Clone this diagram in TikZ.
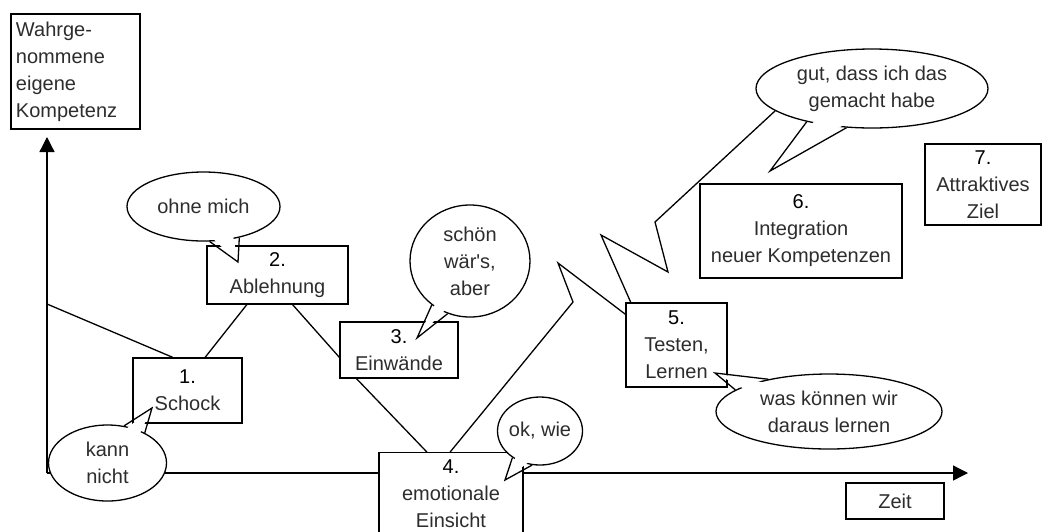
\documentclass[tikz,border=0pt]{standalone}
\usepackage{fontspec}
\setmainfont{Liberation Sans}
\usetikzlibrary{arrows.meta,shapes.geometric,calc}
\definecolor{kgray}{RGB}{45,45,45}
\newcommand{\kfont}{\fontsize{20}{27}\selectfont}
\newcommand{\knum}[1]{\textcolor{black}{#1}}
% tail of a speech bubble: bubble, border angle, border angle, tip
\newcommand{\ktail}[4]{%
  \fill[white] ($(#1.center)!0.8!(#1.#2)$) -- (#4) -- ($(#1.center)!0.8!(#1.#3)$) -- cycle;
  \draw[kline] (#1.#2) -- (#4) -- (#1.#3);}
\tikzset{
  kbox/.style={rectangle, draw, fill=white, line width=1.3pt, align=center, inner sep=2pt,
               text=kgray, font=\kfont},
  kbubble/.style={ellipse, draw, fill=white, line width=1.3pt, align=center, inner sep=0pt,
                  text=kgray, font=\kfont},
  karr/.style={-{Triangle[length=15pt,width=15pt]}, line width=1.3pt},
  kline/.style={line width=1.3pt},
}

\begin{document}
\begin{tikzpicture}[x=1pt,y=-1pt]
        \useasboundingbox[fill=white] (0,0) rectangle (1043,531);
        % axes
        \coordinate (o) at (47,473);
        \coordinate (yend) at (47,137);
        \coordinate (xend) at (968,473);
        \coordinate (ya) at (47,304);
        \draw[karr](o)--(yend);\draw[karr](o)--(xend);
        \node[kbox,text width=119pt,align=left,inner xsep=5pt,minimum height=115pt](ylab) at (75.5,71.5){Wahrge-\\nommene\\eigene\\Kompetenz};
        \node[kbox,minimum width=98pt,minimum height=36pt](zeit) at (895,501){Zeit};
        % phases
        \node[kbox,minimum width=109pt,minimum height=65pt](s1) at (187.5,390.5){\knum{1.}\\Schock};
        \node[kbox,minimum width=141pt,minimum height=58pt](s2) at (277.5,275){\knum{2.}\\Ablehnung};
        \node[kbox,minimum width=118pt,minimum height=56pt](s3) at (399,350){\knum{3.}\\Einwände};
        \node[kbox,minimum width=144pt,anchor=north,inner ysep=7pt,text depth=16pt](s4) at (451,452){\knum{4.}\\emotionale\\Einsicht};
        \node[kbox,minimum width=101pt,minimum height=84pt](s5) at (676.5,345){\knum{5.}\\Testen,\\Lernen};
        \node[kbox,minimum width=202pt,minimum height=94pt](s6) at (801,231){\knum{6.}\\Integration\\neuer Kompetenzen};
        \node[kbox,minimum width=116pt,minimum height=81pt](s7) at (983,184.5){\knum{7.}\\Attraktives\\Ziel};
        % speech bubbles
        \coordinate (kntip) at (152,408);
        \coordinate (omtip) at (238,262);
        \coordinate (swtip) at (417,338);
        \coordinate (oktip) at (505,480);
        \coordinate (wktip) at (715,373);
        \coordinate (gdtip) at (770,171);
        \node[kbubble,minimum width=118pt,minimum height=76pt](kn) at (107.5,463){kann\\nicht};
        \ktail{kn}{66}{39}{kntip}
        \node[kbubble,minimum width=153pt,minimum height=69pt](om) at (203.5,206.5){ohne mich};
        \ktail{om}{280}{319}{omtip}
        \node[kbubble,minimum width=120pt,minimum height=112pt](sw) at (470,261){schön\\wär\textquotesingle s,\\aber};
        \ktail{sw}{229}{247}{swtip}
        \node[kbubble,minimum width=85pt,minimum height=68pt,inner xsep=-3pt](ok) at (540,431){ok, wie};
        \ktail{ok}{224}{257}{oktip}
        \node[kbubble,minimum width=226pt,minimum height=75pt](wk) at (829,411.5){was können wir\\daraus lernen};
        \ktail{wk}{167}{152}{wktip}
        \node[kbubble,minimum width=232pt,minimum height=79pt](gd) at (872,88.5){gut, dass ich das\\gemacht habe};
        \ktail{gd}{207}{237}{gdtip}
        % curve
        \coordinate (z1) at (573,302);
        \coordinate (z2) at (558,263);
        \coordinate (z3) at (601,235);
        \coordinate (z4) at (668,272);
        \coordinate (z5) at (655,222);
        \draw[kline](ya)--(s1.114);\draw[kline](s1.62)--(s2.224);\draw[kline](s2.297)--(s3.187);\draw[kline](s3.214)--(s4.116);
        \draw[kline](s4.91)--(z1)--(z2)--(s5.149);
        \draw[kline](s5.137)--(z3)--(z4)--(z5)--(gd.193);
    \end{tikzpicture}
\end{document}
